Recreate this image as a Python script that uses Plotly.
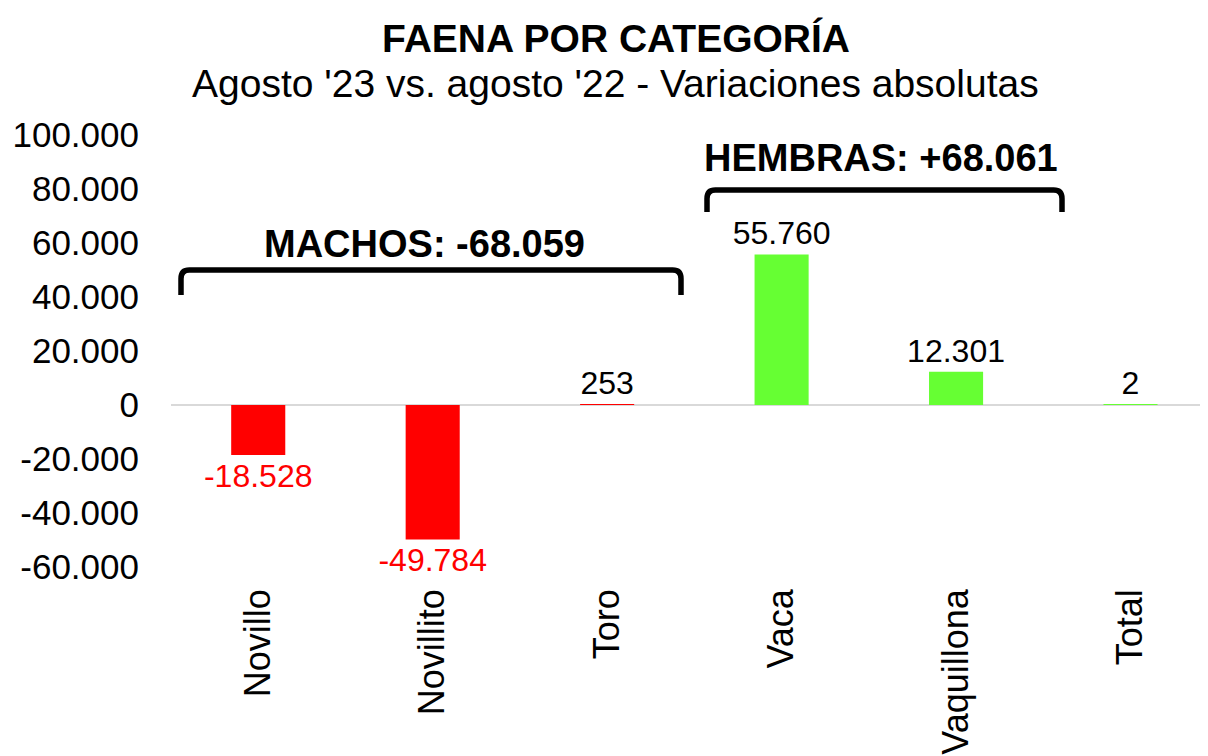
import plotly.graph_objects as go

categorias = ["Novillo", "Novillito", "Toro", "Vaca", "Vaquillona", "Total"]
variacion = [-18528, -49784, 253, 55760, 12301, 2]
colores = ["#FF0000", "#FF0000", "#FF0000", "#66FF33", "#66FF33", "#66FF33"]
color_texto = ["#FF0000" if v < 0 else "#000000" for v in variacion]

y_ticks = [-60000, -40000, -20000, 0, 20000, 40000, 60000, 80000, 100000]
y_tick_labels = ["-60.000", "-40.000", "-20.000", "0", "20.000", "40.000",
                 "60.000", "80.000", "100.000"]
etiquetas = [f"{v:,d}".replace(",", ".") for v in variacion]

FONT = "Liberation Sans, Arial, sans-serif"

# el cuerpo de la página añade 8 px de margen: se compensa aquí
L, T, B = 163, 127, 197
W_PLOT = 1208 - L
H_PLOT = 756 - T - B

fig = go.Figure(
    go.Bar(
        x=categorias,
        y=variacion,
        marker=dict(color=colores, line=dict(width=0)),
        width=0.31,
        text=etiquetas,
        textposition="outside",
        textfont=dict(family=FONT, size=32, color=color_texto),
        constraintext="none",
        cliponaxis=False,
        hoverinfo="skip",
    )
)

fig.update_layout(
    width=1208,
    height=756,
    margin=dict(l=L, r=0, t=T, b=B),
    paper_bgcolor="white",
    plot_bgcolor="white",
    showlegend=False,
    font=dict(family=FONT, color="black"),
)

fig.update_xaxes(
    range=[-0.5, 5.49],
    tickangle=-90,
    tickfont=dict(size=36, color="black"),
    showgrid=False,
    showline=False,
    ticks="",
    ticklabelstandoff=14,
    automargin=False,
)
fig.update_yaxes(
    range=[-60000, 100000],
    tickvals=y_ticks,
    ticktext=y_tick_labels,
    tickfont=dict(size=35, color="black"),
    showgrid=False,
    showline=False,
    zeroline=True,
    zerolinecolor="#D9D9D9",
    zerolinewidth=2,
    ticks="",
    ticklabelstandoff=31,
    automargin=False,
)


def px_x(px):
    return (px - 8 - L) / W_PLOT


def px_y(py):
    return (756 - B - (py - 8)) / H_PLOT


# llaves de agrupamiento
def llave(x0, x1, y_top, y_bot):
    x0, x1, y_top, y_bot = px_x(x0), px_x(x1), px_y(y_top), px_y(y_bot)
    r = 0.008
    path = (
        f"M {x0},{y_bot} L {x0},{y_top - 0.02} Q {x0},{y_top} {x0 + r},{y_top} "
        f"L {x1 - r},{y_top} Q {x1},{y_top} {x1},{y_top - 0.02} L {x1},{y_bot}"
    )
    return dict(type="path", xref="paper", yref="paper", path=path,
                line=dict(color="black", width=5.5))


fig.add_shape(llave(181, 681, 270, 295))
fig.add_shape(llave(707, 1062, 190, 212))


def texto(t, px, py, size, bold=False):
    fig.add_annotation(
        text=f"<b>{t}</b>" if bold else t,
        xref="paper", yref="paper",
        x=px_x(px), y=px_y(py),
        xanchor="center", yanchor="middle",
        showarrow=False,
        font=dict(size=size, color="black"),
    )


texto("MACHOS: -68.059", 424, 244, 38, bold=True)
texto("HEMBRAS: +68.061", 881, 158, 38, bold=True)

# títulos
texto("FAENA POR CATEGORÍA", 616, 39, 39, bold=True)
texto("Agosto '23 vs. agosto '22 - Variaciones absolutas", 615, 84, 39)

fig.write_html("out.html")
